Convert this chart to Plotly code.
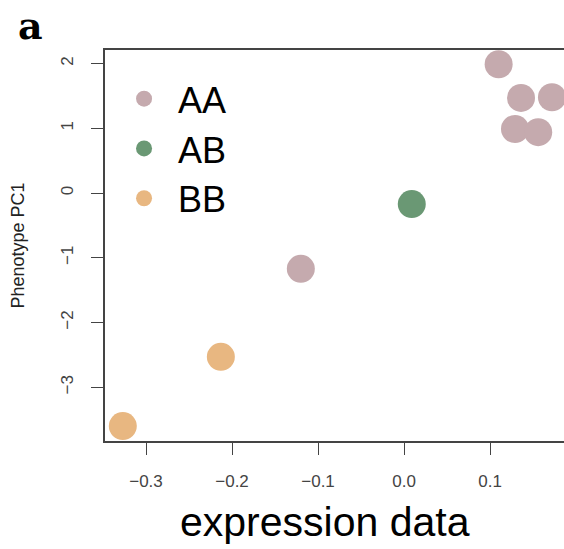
import plotly.graph_objects as go

# genotype groups and point values
groups = ['AA', 'AB', 'BB']
colors = {'AA': '#c5aaae', 'AB': '#6a9874', 'BB': '#e8b781'}

aa_x = [0.110, 0.136, 0.172, 0.129, 0.156, -0.120]
aa_y = [1.99, 1.47, 1.48, 0.99, 0.94, -1.17]
ab_x = [0.009]
ab_y = [-0.17]
bb_x = [-0.213, -0.327]
bb_y = [-2.53, -3.60]

x_ticks = [-0.3, -0.2, -0.1, 0.0, 0.1]
y_ticks = [2, 1, 0, -1, -2, -3]

data = {'AA': (aa_x, aa_y), 'AB': (ab_x, ab_y), 'BB': (bb_x, bb_y)}

fig = go.Figure()
for g in groups:
    xs, ys = data[g]
    fig.add_trace(go.Scatter(
        x=xs, y=ys, mode='markers', name=g,
        marker=dict(size=28, color=colors[g], line=dict(width=0))
    ))

axis_font = dict(family='Liberation Sans, Arial', size=17, color='#444')

fig.update_xaxes(
    range=[-0.3477, 0.186],
    tickvals=x_ticks, tickformat='.1f',
    ticks='outside', ticklen=12, tickwidth=1.2, tickcolor='#444',
    ticklabelstandoff=12,
    showline=True, linecolor='#444', linewidth=1.5, mirror=True,
    showgrid=False, zeroline=False, tickfont=axis_font
)
fig.update_yaxes(
    range=[-3.83, 2.21],
    tickvals=y_ticks,
    ticks='outside', ticklen=12, tickwidth=1.2, tickcolor='#444',
    tickangle=-90, ticklabelstandoff=11,
    showline=True, linecolor='#444', linewidth=1.5, mirror=False,
    showgrid=False, zeroline=False, tickfont=axis_font,
    title=dict(text='Phenotype PC1', standoff=29,
               font=dict(family='Liberation Sans, Arial', size=18, color='#222'))
)

fig.add_annotation(text='expression data', xref='paper', yref='paper',
                   x=(325 - 105) / 459, y=-(522 - 441) / 391,
                   xanchor='center', yanchor='middle', showarrow=False,
                   font=dict(family='Liberation Sans, Arial', size=41, color='black'))
fig.add_annotation(text='<b>a</b>', xref='paper', yref='paper',
                   x=-(105 - 30) / 459, y=1 + (50 - 1) / 391,
                   xanchor='center', yanchor='top', showarrow=False,
                   font=dict(family='DejaVu Serif, serif', size=38, color='black'))

fig.update_layout(
    width=564, height=549,
    margin=dict(l=105, r=0, t=50, b=108),
    plot_bgcolor='white', paper_bgcolor='white',
    showlegend=True,
    legend=dict(x=0.011, y=0.952, xanchor='left', yanchor='top',
                bgcolor='rgba(0,0,0,0)', borderwidth=0,
                font=dict(family='Liberation Sans, Arial', size=36, color='black'),
                itemsizing='trace', itemwidth=58)
)

fig.write_html('out.html', config={'displayModeBar': False},
               post_script="document.body.style.margin='0';")
